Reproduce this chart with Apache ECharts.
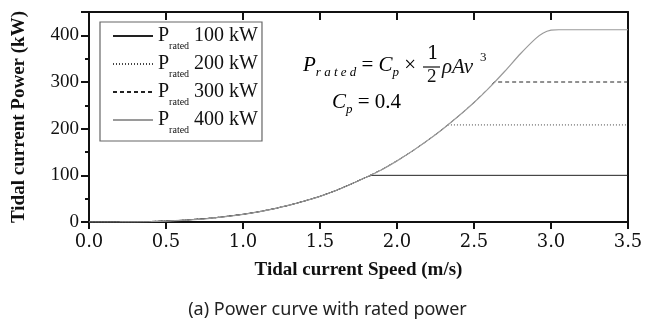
<!DOCTYPE html>
<html>
<head>
    <meta charset="utf-8">
    <title>power curve</title>
    <script src="https://cdn.jsdelivr.net/npm/echarts@6/dist/echarts.min.js"></script>
    <style>
        html, body { margin: 0; padding: 0; background: #fff; }
    </style>
</head>
<body>
<div id="mychat" style="width: 655px;height:334px;"></div>
<script>
    // power curve (speed m/s -> kW)
    var curveSpeed = [0, 0.2, 0.4, 0.6, 0.8, 1.0, 1.1, 1.2, 1.3, 1.4, 1.5, 1.6, 1.7, 1.8, 1.9, 2.0, 2.1, 2.2, 2.3, 2.4, 2.5, 2.6, 2.7, 2.8, 2.9, 2.95, 3.0, 3.05, 3.5];
    var curvePower = [0, 0.1, 1.0, 3.5, 8.4, 16.4, 21.8, 28.3, 36, 45, 55, 67, 81, 96, 112, 131, 152, 175, 200, 227, 256, 288, 323, 360, 393, 405, 411, 412, 412];
    // rated lines: where they leave the curve and the level they stay at
    var ratedNames = ['100 kW', '200 kW', '300 kW'];
    var ratedKnee = [1.836, 2.325, 2.63];
    var ratedLevel = [100, 208, 300];
    var xTicks = ['0.0', '0.5', '1.0', '1.5', '2.0', '2.5', '3.0', '3.5'];

    function ratedData(knee, level) {
        var d = [];
        for (var i = 0; i < curveSpeed.length; i++) {
            if (curveSpeed[i] < knee) d.push([curveSpeed[i], curvePower[i]]);
        }
        d.push([knee, level]);
        d.push([3.5, level]);
        return d;
    }
    var fullData = [];
    for (var i = 0; i < curveSpeed.length; i++) fullData.push([curveSpeed[i], curvePower[i]]);

    var serif = 'Liberation Serif';
    var lineStyles = [
        {color: '#222', width: 1, type: 'solid'},
        {color: '#444', width: 1, type: [1, 2]},
        {color: '#222', width: 1, type: [4, 3]},
        {color: '#9a9a9a', width: 1.2, type: 'solid'}
    ];
    var series = [];
    for (var k = 0; k < ratedNames.length; k++) {
        series.push({
            name: ratedNames[k], type: 'line', showSymbol: false, symbol: 'none',
            data: ratedData(ratedKnee[k], ratedLevel[k]), lineStyle: lineStyles[k],
            itemStyle: {color: lineStyles[k].color}, z: 2 + k
        });
    }
    series.push({
        name: '400 kW', type: 'line', showSymbol: false, symbol: 'none', smooth: 0.2,
        data: fullData, lineStyle: lineStyles[3], itemStyle: {color: lineStyles[3].color}, z: 10
    });

    var eqRich = {
        i: {fontFamily: serif, fontSize: 21, fontStyle: 'italic', lineHeight: 28, verticalAlign: 'middle', color: '#111'},
        s: {fontFamily: serif, fontSize: 13, fontStyle: 'italic', lineHeight: 13, verticalAlign: 'bottom', color: '#111'},
        n: {fontFamily: 'serif', fontSize: 21, lineHeight: 28, verticalAlign: 'middle', color: '#111'}
    };
    function eq(txt, x, y) {
        return {type: 'text', left: x, top: y, z: 20, style: {text: txt, rich: eqRich}};
    }
    function num(txt, x, y, size, fam) {
        return {type: 'text', left: x, top: y, z: 20, style: {
            text: txt, fontFamily: fam, fontSize: size, fill: '#111'}};
    }

    var myChart = echarts.init(document.getElementById('mychat'));
    var option = {
        animation: false,
        grid: {left: 89, right: 27, top: 12, bottom: 112},
        legend: {
            orient: 'vertical', left: 100, top: 22,
            borderColor: '#666', borderWidth: 1.2,
            padding: [4, 4, 6, 12], itemGap: 3,
            itemWidth: 40, itemHeight: 14,
            itemStyle: {opacity: 0},
            data: ['100 kW', '200 kW', '300 kW', '400 kW'],
            formatter: function (name) { return '{p|P}{s|rated}{v| ' + name + '}'; },
            textStyle: {
                color: '#111',
                rich: {
                    p: {fontFamily: serif, fontSize: 20, lineHeight: 24, verticalAlign: 'middle', color: '#111'},
                    s: {fontFamily: serif, fontSize: 10, lineHeight: 10, verticalAlign: 'bottom', color: '#111', padding: [0, 0, -3, 0]},
                    v: {fontFamily: serif, fontSize: 20, lineHeight: 24, verticalAlign: 'middle', color: '#111'}
                }
            }
        },
        xAxis: [{
            type: 'value', min: 0, max: 3.5, interval: 0.5,
            name: 'Tidal current Speed (m/s)', nameLocation: 'middle', nameGap: 39,
            nameTextStyle: {fontFamily: serif, fontSize: 19, fontWeight: 'bold', color: '#111'},
            axisLine: {show: true, onZero: false, lineStyle: {color: '#111', width: 2}},
            axisTick: {show: true, length: 7, lineStyle: {color: '#111', width: 2}},
            axisLabel: {fontFamily: 'DejaVu Serif', fontSize: 18, color: '#111', margin: 11,
                formatter: function (v) { return xTicks[Math.round(v * 2)]; }},
            splitLine: {show: false}
        }, {
            type: 'value', min: 0, max: 3.5, interval: 0.5, position: 'top',
            axisLine: {show: true, onZero: false, lineStyle: {color: '#111', width: 2}},
            axisTick: {show: true, inside: true, length: 8, lineStyle: {color: '#111', width: 2}},
            axisLabel: {show: false}, splitLine: {show: false}
        }],
        yAxis: [{
            type: 'value', min: 0, max: 450, interval: 100,
            name: 'Tidal current Power (kW)', nameLocation: 'middle', nameGap: 60,
            nameTextStyle: {fontFamily: serif, fontSize: 19, fontWeight: 'bold', color: '#111'},
            axisLine: {show: true, onZero: false, lineStyle: {color: '#111', width: 2}},
            axisTick: {show: true, length: 8, lineStyle: {color: '#111', width: 2}},
            minorTick: {show: true, splitNumber: 2, length: 4, lineStyle: {color: '#111', width: 2}},
            axisLabel: {fontFamily: 'serif', fontSize: 19, color: '#111', margin: 10, showMaxLabel: false},
            splitLine: {show: false}, minorSplitLine: {show: false}
        }, {
            type: 'value', min: 0, max: 450, position: 'right',
            axisLine: {show: true, onZero: false, lineStyle: {color: '#111', width: 2}},
            axisTick: {show: false}, axisLabel: {show: false}, splitLine: {show: false}
        }],
        graphic: [
            eq('{i|P}{s|r a t e d}{n| = }{i|C}{s|p}{n| ×}', 303, 55),
            num('1', 427, 45, 19, 'DejaVu Serif'),
            {type: 'line', z: 20, shape: {x1: 423, y1: 67, x2: 440, y2: 67}, style: {stroke: '#111', lineWidth: 1.2}},
            num('2', 427, 68, 19, 'serif'),
            {type: 'text', left: 442, top: 57, z: 20, style: {text: 'ρAv', fontFamily: serif, fontSize: 21, fontStyle: 'italic', fill: '#111'}},
            num('3', 480, 51, 13, 'serif'),
            eq('{i|C}{s|p}{n| = 0.4}', 332, 92),
            {type: 'text', left: 'center', top: 301, z: 20, style: {
                text: '(a) Power curve with rated power',
                fontFamily: 'Noto Sans', fontSize: 18, fill: '#222'}}
        ],
        series: series
    };
    myChart.setOption(option);
</script>
</body>
</html>
